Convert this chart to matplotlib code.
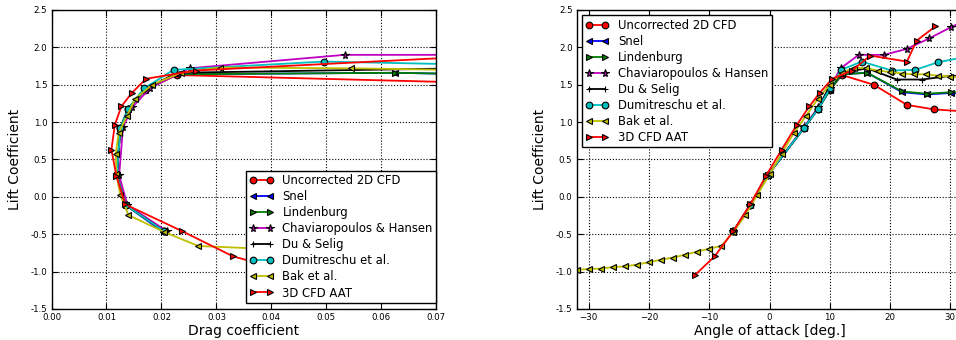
import numpy as np
import matplotlib
matplotlib.use('Agg')
import matplotlib.pyplot as plt
from matplotlib.ticker import MultipleLocator, FormatStrFormatter

# Labels and styles of the eight series (same order as the legend)
labels = ['Uncorrected 2D CFD', 'Snel', 'Lindenburg', 'Chaviaropoulos & Hansen',
          'Du & Selig', 'Dumitreschu et al.', 'Bak et al.', '3D CFD AAT']

# Angle of attack [deg], lift and drag coefficients
alpha_2d = [-6, -3.2, -0.3, 5.7, 8.1, 10, 12, 17.3, 22.8, 27.3, 33]
cl_2d = [-0.46, -0.11, 0.29, 0.92, 1.18, 1.43, 1.63, 1.50, 1.23, 1.17, 1.14]
cd_2d = [0.0205, 0.0135, 0.0119, 0.0125, 0.0140, 0.0170, 0.0228, 0.091, 0.15, 0.20, 0.25]

alpha_snel = [-6, -3.2, -0.3, 5.7, 8.1, 10, 12, 16.2, 22, 26.1, 30.1, 33]
cl_snel = [-0.47, -0.11, 0.29, 0.92, 1.18, 1.43, 1.64, 1.66, 1.40, 1.37, 1.39, 1.39]
cd_snel = [0.0203, 0.0135, 0.0119, 0.0125, 0.0140, 0.0170, 0.0228, 0.0625, 0.25, 0.30, 0.35, 0.38]

alpha_lind = [-6, -3.2, -0.3, 5.7, 8.1, 10, 12, 16.2, 22, 26.1, 30.1, 33]
cl_lind = [-0.46, -0.11, 0.29, 0.92, 1.18, 1.43, 1.64, 1.66, 1.41, 1.38, 1.40, 1.40]
cd_lind = [0.0205, 0.0135, 0.0119, 0.0125, 0.0140, 0.0170, 0.0228, 0.0625, 0.25, 0.30, 0.35, 0.38]

alpha_chav = [-6, -3.2, -0.3, 5.7, 8.1, 10, 11.8, 14.8, 19.0, 22.8, 26.5, 30.1, 33]
cl_chav = [-0.46, -0.11, 0.29, 0.93, 1.20, 1.46, 1.72, 1.90, 1.90, 1.98, 2.12, 2.27, 2.38]
cd_chav = [0.0210, 0.0138, 0.0123, 0.0130, 0.0147, 0.0180, 0.0251, 0.0533, 0.10, 0.14, 0.18, 0.22, 0.25]

alpha_du = [-6, -3.2, -0.3, 5.7, 8.1, 9.7, 12, 16.2, 21.1, 25.3, 30.1, 33]
cl_du = [-0.46, -0.11, 0.29, 0.92, 1.19, 1.44, 1.66, 1.72, 1.57, 1.57, 1.62, 1.62]
cd_du = [0.0205, 0.0135, 0.0119, 0.0125, 0.0140, 0.0170, 0.0228, 0.075, 0.15, 0.20, 0.25, 0.28]

alpha_dum = [-6, -3.2, -0.3, 5.7, 8.1, 10, 11.9, 15.3, 20.3, 24.2, 27.9, 33]
cl_dum = [-0.46, -0.11, 0.29, 0.92, 1.18, 1.45, 1.70, 1.81, 1.69, 1.70, 1.80, 1.88]
cd_dum = [0.0205, 0.0135, 0.0119, 0.0125, 0.0140, 0.0168, 0.0222, 0.0495, 0.13, 0.17, 0.21, 0.26]

alpha_bak = [-32, -30, -28, -26, -24, -22, -20, -18, -16, -14, -12, -10, -8, -6, -4, -2,
             0, 2, 4, 6, 8, 10, 12, 14, 16, 18, 20, 22, 24, 26, 28, 30, 32]
cl_bak = [-0.977, -0.964, -0.96, -0.94, -0.93, -0.906, -0.875, -0.84, -0.813, -0.773,
          -0.733, -0.693, -0.657, -0.47, -0.244, 0.03, 0.30, 0.58, 0.85, 1.08, 1.31,
          1.50, 1.66, 1.73, 1.72, 1.69, 1.67, 1.65, 1.64, 1.64, 1.62, 1.61, 1.60]
cd_bak = [0.30, 0.27, 0.24, 0.21, 0.185, 0.16, 0.135, 0.11, 0.088, 0.068, 0.052, 0.038,
          0.0267, 0.0205, 0.0140, 0.0125, 0.0118, 0.0117, 0.0122, 0.0137, 0.0152, 0.0183,
          0.0235, 0.0307, 0.0544, 0.08, 0.10, 0.12, 0.14, 0.16, 0.18, 0.20, 0.22]

alpha_3d = [-12.3, -9.1, -6, -3.2, -0.6, 2.0, 4.5, 6.6, 8.3, 10.4, 13.7, 16.7, 22.8, 24.4, 27.5]
cl_3d = [-1.04, -0.795, -0.457, -0.10, 0.28, 0.63, 0.96, 1.21, 1.39, 1.58, 1.69, 1.89,
         1.81, 2.09, 2.28]
cd_3d = [0.045, 0.033, 0.0237, 0.0134, 0.0118, 0.0109, 0.0115, 0.0127, 0.0146, 0.0172,
         0.0262, 0.080, 0.15, 0.19, 0.26]

alphas = [alpha_2d, alpha_snel, alpha_lind, alpha_chav, alpha_du, alpha_dum, alpha_bak, alpha_3d]
cls = [cl_2d, cl_snel, cl_lind, cl_chav, cl_du, cl_dum, cl_bak, cl_3d]
cds = [cd_2d, cd_snel, cd_lind, cd_chav, cd_du, cd_dum, cd_bak, cd_3d]
colors = ['r', 'b', 'g', 'm', 'k', 'c', 'y', 'r']
markers = ['o', '<', '>', '*', '+', 'o', '<', '>']

fig = plt.figure(figsize=(9.56, 3.40), dpi=100)
ax1 = fig.add_axes([0.0539, 0.0912, 0.4025, 0.8794])
ax2 = fig.add_axes([0.6032, 0.0912, 0.4035, 0.8794])


def style_axes(ax):
    ax.grid(True, linestyle=':', color='k', linewidth=0.8)
    ax.tick_params(which='both', direction='in', top=True, right=True,
                   length=4, labelsize=6.2, pad=3)
    ax.set_ylim(-1.5, 2.5)
    ax.yaxis.set_major_locator(MultipleLocator(0.5))
    ax.yaxis.set_major_formatter(FormatStrFormatter('%.1f'))
    ax.set_ylabel('Lift Coefficient', fontsize=10, labelpad=6)
    for s in ax.spines.values():
        s.set_linewidth(1.0)


for a, cl, cd, lab, c, m in zip(alphas, cls, cds, labels, colors, markers):
    kw = dict(color=c, marker=m, markeredgecolor='k', markersize=4.8, linewidth=1.3,
              markeredgewidth=0.8, label=lab)
    if m == '*':
        kw['markersize'] = 5.8
    ax1.plot(cd, cl, **kw)
    ax2.plot(a, cl, **kw)

style_axes(ax1)
ax1.set_xlim(0, 0.07)
ax1.xaxis.set_major_locator(MultipleLocator(0.01))
ax1.xaxis.set_major_formatter(FormatStrFormatter('%.2f'))
ax1.set_xlabel('Drag coefficient', fontsize=10, labelpad=1)

style_axes(ax2)
ax2.set_xlim(-32, 32)
ax2.xaxis.set_major_locator(MultipleLocator(10))
ax2.set_xlabel('Angle of attack [deg.]', fontsize=10, labelpad=1)

leg_kw = dict(numpoints=2, fontsize=8.4, fancybox=False, framealpha=1.0,
              edgecolor='k', handlelength=2.0, labelspacing=0.26,
              borderpad=0.3, handletextpad=0.8)
l1 = ax1.legend(loc='lower right', bbox_to_anchor=(1.0, 0.02), borderaxespad=0.0, **leg_kw)
l2 = ax2.legend(loc='upper left', borderaxespad=0.45, **leg_kw)
for l in (l1, l2):
    l.get_frame().set_linewidth(1.0)

fig.savefig('out.png', dpi=100)
